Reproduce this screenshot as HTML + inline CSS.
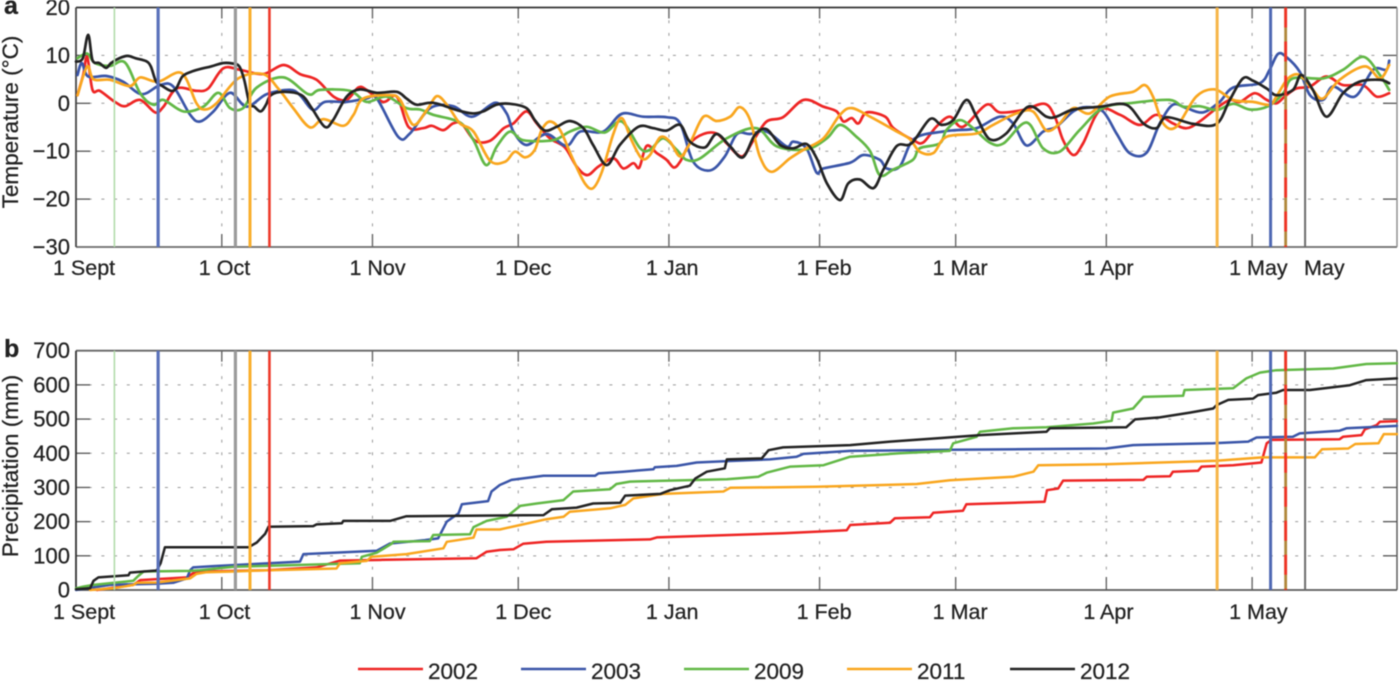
<!DOCTYPE html>
<html lang="en">
<head>
<meta charset="utf-8">
<title>Temperature and precipitation, 1 Sept to May</title>
<style>
html,body{margin:0;padding:0;background:#fff;width:1400px;height:683px;overflow:hidden}
svg{display:block;filter:blur(0.6px)}
text{font-family:"Liberation Sans",sans-serif;fill:#222;stroke:#222;stroke-width:0.25px}
</style>
</head>
<body>
<svg id="chart" width="1400" height="683" viewBox="0 0 1400 683" xmlns="http://www.w3.org/2000/svg"></svg>
<script>
const monthDays = [0, 30, 61, 91, 122, 153, 181, 212, 242];
const monthLabels = ['1 Sept', '1 Oct', '1 Nov', '1 Dec', '1 Jan', '1 Feb', '1 Mar', '1 Apr', '1 May'];
const tempTicks = [20, 10, 0, -10, -20, -30];
const precipTicks = [700, 600, 500, 400, 300, 200, 100, 0];
const years = ['2002', '2003', '2009', '2011', '2012'];
const yearColors = ['#ee2524', '#3a55a8', '#62b846', '#f9a61e', '#232323'];

const temp2002 = [[0.3,1.7],[1.5,6],[2.3,9.7],[3.4,2.8],[4.9,2.6],[8,0.3],[10.1,-0.6],[13.2,0.7],[16.3,-1.9],[18,-0.7],[20.7,3.1],[24.8,2.6],[27.2,3.1],[30.3,7.3],[33.7,7],[38.5,6.1],[42.7,8],[46.1,6.1],[49.5,4.9],[53,1.4],[55.7,0.7],[58.1,3.3],[59.8,2.8],[63.2,0.3],[66,1.4],[68.4,-4.9],[71.4,-5.2],[73.2,-4.7],[75.6,-5.6],[77.6,-4.2],[79.4,-4.3],[82.1,-7.8],[85.2,-7.8],[88,-5.2],[90,-4.2],[92.7,-1.7],[94.8,-4.2],[97.5,-7.3],[100.6,-9.2],[103,-13.2],[105.2,-15],[107.5,-13.2],[110.6,-11.5],[112.6,-13.6],[114.7,-12.5],[115.9,-13.4],[117.4,-8.9],[119.5,-10.4],[121.5,-11.8],[123,-13.4],[124.3,-12.2],[126.3,-8.4],[129.1,-6.4],[131.8,-6.3],[133.9,-8.4],[137,-11.1],[139.4,-7.7],[142.1,-3.8],[145.5,-2.9],[149.7,0.7],[153.8,-0.7],[156.5,-1.7],[157.9,-3.8],[159.6,-3.1],[161,-4.2],[162.7,-1.9],[166.5,-2.8],[168.2,-5.2],[172.3,-7.7],[174.3,-8.2],[177,-4.9],[179.8,-2.8],[182.5,-4.9],[187.3,-0.3],[190.1,-1.9],[194.9,-1.4],[199.3,-0.1],[201.4,-2.8],[203.1,-7.7],[205.2,-10.8],[207.2,-8.4],[210.7,-1.4],[214.8,-2.4],[218.9,-4.5],[222.3,-2.4],[225.7,-4.2],[228.5,-5.2],[231.2,-3.8],[234.7,-1],[237.4,0.7],[239.5,0.3],[242.5,2.1],[245,0.7],[247,0],[248.7,1.4],[251.1,3.1],[253.9,3.5],[257.3,5.6],[260.7,3.8],[264.8,3.8],[267.6,1.4],[270.2,2.1]];
const temp2003 = [[0.3,5.9],[1.2,8.4],[2.5,5.6],[6.3,5.7],[9.7,4.5],[13.5,1.9],[17.3,3.8],[20,3.5],[23.5,-2.4],[25.5,-3.8],[28.3,-1.7],[31.7,2.2],[35.1,-0.7],[39.2,1.9],[44,2.8],[46.1,1.7],[48.8,-1.4],[51.2,0.3],[55.7,0.3],[59.8,1],[61.9,1],[66.3,-7],[68.7,-6.3],[72.9,-1],[77.6,-0.6],[81.5,-2.8],[86.2,0.1],[88.6,-2.1],[90,-5.9],[92.7,-8.7],[96.8,-6.4],[100.9,-8.9],[103.7,-5.9],[108.5,-5.9],[112.3,-2.2],[116.7,-2.8],[121.5,-2.9],[124.3,-4.2],[127,-12.2],[130.5,-14],[133.5,-11.1],[136,-6.4],[138.7,-6.4],[142.1,-5.9],[146.2,-9],[147.6,-8],[150.3,-9.4],[152.4,-14.5],[153.8,-13.6],[159.3,-12.4],[162,-10.8],[165.4,-11.8],[166.8,-13.6],[169.5,-13.2],[172.5,-7.4],[178.4,-5.9],[181.2,-5.6],[185.3,-5.2],[190.1,-2.8],[192.8,-4.2],[195.6,-8.8],[199,-5.9],[201.7,-4.9],[205.2,-1.7],[207.9,-0.8],[211.3,-1.7],[214.1,-6.3],[216.8,-10.4],[220.2,-10.4],[223,-4.2],[225.7,-0.3],[228.5,-1],[231.9,-1.9],[235.3,0.3],[238.1,3.3],[243.6,4.2],[245.6,7],[247.3,10.3],[249,9.7],[251.8,6.6],[253.9,1.7],[256.6,0.7],[258.7,3.5],[263.1,1.4],[266.9,7],[269.6,7],[270.2,8.9]];
const temp2009 = [[0.3,9.4],[2.3,10.4],[3.9,8.4],[7,7.8],[10.1,8.5],[13.2,2.1],[15.9,-0.3],[18,0.7],[22.1,-1.7],[26.2,-0.7],[29.3,2.2],[31.7,-1],[34.4,-1],[37.2,3.3],[42.7,5.4],[47.8,1.9],[50.2,2.8],[56.4,2.6],[59.8,0.3],[63.9,1.4],[68,-1],[70.8,-1.3],[73.5,-2.4],[79,-4],[81.8,-7.7],[84.4,-12.9],[86.6,-9],[89.3,-5.9],[92,-7.7],[98.2,-7.7],[101.6,-5.9],[105.1,-4.9],[108.8,-6.1],[112.3,-3.8],[116.1,-9.4],[118.1,-9.7],[120.8,-7.3],[123.6,-9.7],[125.6,-11.8],[128.4,-11.5],[133.9,-7.3],[140,-5.2],[144.2,-9],[150.3,-9.6],[154.5,-7.3],[157.2,-4.5],[160.6,-7],[163.4,-10],[165.4,-15],[168.2,-13.8],[172.2,-11.8],[173.6,-9.4],[177.7,-8.4],[179.1,-5.6],[181.8,-3.5],[184.6,-5.2],[188,-8.2],[190.8,-8.4],[195.6,-4],[199,-9.4],[202.4,-10.1],[206.5,-5.6],[211.3,-1],[217.5,0.1],[225,0.7],[227.8,-0.7],[231.2,-0.6],[234.7,-1.4],[238.1,-0.1],[241.5,-1.3],[245.3,-0.6],[248.4,2.1],[250.4,5.2],[256.6,5.2],[260.7,7],[264.9,9.7],[268.3,5.9],[270.2,2.8]];
const temp2011 = [[0.3,1.7],[2.3,7.7],[3.6,5],[7,4.9],[11.1,3.6],[13.2,5.4],[16.9,4.5],[21.7,6.3],[24.8,0],[26.5,-1.3],[28.9,0],[33.4,5.2],[38.5,6.1],[41.6,3.1],[44.7,-1],[48.1,-5],[50.9,-3.3],[55,-4.7],[57.1,-2.4],[59.1,1],[64.6,1.7],[66.7,0.7],[69.4,-4.5],[72.2,-1.4],[74.3,1.5],[76.6,-0.7],[79,-4.2],[81.8,-5.9],[85.2,-12],[88.3,-12.2],[90.3,-10.1],[92.4,-11.3],[94.4,-9.7],[95.8,-5.6],[97.5,-3.8],[99.6,-5.6],[102.3,-11.8],[104.7,-16.7],[106.4,-17.7],[108.2,-14.3],[110.6,-6.3],[112.3,-3.1],[114.3,-7.7],[116.4,-11.5],[118.1,-10.8],[120.2,-7.1],[122.2,-8],[124.3,-11.1],[126.3,-8.4],[129.1,-2.8],[131.8,-3.7],[134.6,-2.8],[136.6,-0.8],[138.7,-3.5],[140.7,-11.1],[143.1,-14.3],[146.9,-11.5],[149.7,-9.7],[153.8,-7.3],[157.2,-2.4],[159.6,-1],[163.4,-2.8],[168.9,-5.9],[171.6,-7.5],[173.6,-10.1],[176.4,-10.4],[179.1,-7],[185.3,-6.3],[188.7,-4.5],[193.5,-2.1],[196.9,-1.7],[199.7,-5.7],[202.4,-4.2],[205.2,-1],[208.6,-2.1],[212.7,1.4],[217.5,2.4],[219.9,3.8],[221.6,1.4],[223.7,-4.2],[226.4,-4.9],[230.5,1.4],[234.3,2.9],[238.1,0.7],[242.2,0.3],[245.6,-0.3],[247,1.4],[249.4,5.2],[251.8,5.9],[254.5,2.8],[256.6,1],[260,4.9],[265.2,7.7],[268.3,5.2],[270.2,8]];
const temp2012 = [[0,8.7],[1.4,9.4],[2.5,14.3],[3.4,9],[4.8,8.4],[6.2,7.4],[7.2,8.4],[8.9,9.4],[10.6,9.9],[12.3,9.4],[14.4,8.8],[15.4,7.7],[16.5,4.5],[17.8,3.6],[19.5,2.6],[20.6,3.1],[21.9,5.6],[23.7,6.6],[25.7,7.2],[27.8,7.7],[30.2,8.4],[32.2,8.3],[33.6,7.7],[34.6,4.9],[35.7,0],[36.7,-0.7],[38,-1.7],[39.1,-0.3],[40.1,1.7],[42.7,2.4],[46.4,1.7],[48.5,-1],[51.2,-4.9],[52.9,-3.5],[55.7,1.4],[58.4,2.9],[61.9,2.2],[66,2.4],[68,1],[70.1,-0.3],[73.5,0.1],[78.3,-1.4],[81.5,-2.1],[83.8,-1.7],[86.5,-0.3],[89.3,-0.1],[92.7,-1],[94.4,-3.5],[96.5,-5.7],[98.9,-4.9],[101.6,-3.7],[104.4,-5.2],[106.4,-8.7],[109.2,-12.9],[111.9,-8.7],[115.7,-4.9],[118.8,-5.2],[121.5,-5.7],[124.3,-4.5],[126.3,-8],[129.4,-9.2],[131.8,-6.4],[134.6,-9],[137.2,-11.3],[139.7,-6.6],[142.1,-5.4],[144.9,-8.7],[147.6,-9.4],[150.3,-8.5],[152.4,-11.5],[154.5,-16.7],[157.2,-20.2],[158.9,-16.7],[161.3,-15.9],[164.1,-17.7],[166.1,-13.9],[168.9,-8.9],[171.9,-8.4],[175.7,-3.3],[178.1,-4.5],[180.5,-3.5],[183.2,0.7],[185.3,-2.8],[188,-7.5],[191.4,-6.3],[195.9,-0.7],[199.7,-2.8],[201.7,-2.8],[205.2,-1.3],[210.7,-0.7],[216.1,-0.3],[219.6,-4.2],[222.3,-5.2],[224.4,-2.9],[229.9,-4.3],[234.7,-4.3],[237.4,0.7],[240.1,5.2],[242.2,4.7],[245,3.1],[247,1.7],[250.4,2.8],[252.1,5.9],[254.5,2.8],[257.3,-2.8],[260.7,2.1],[264.1,4.5],[268.3,4.9],[270.2,4.2]];

const precip2002 = [[4.3,0],[11.8,15],[13.2,29],[22.8,37],[24.1,49],[26.9,54],[39.2,58],[49.5,66],[54.3,86],[82.4,93],[84.5,112],[87.2,117],[90,119],[92,135],[96.8,141],[118.1,148],[119.5,154],[145.5,166],[158.6,175],[159.3,190],[167.5,197],[168.5,210],[175.7,213],[176.4,226],[182.5,232],[183.2,251],[199.3,258],[199.8,292],[202.1,297],[203.1,320],[219.6,322],[220.3,331],[225.1,333],[225.7,346],[230.9,349],[231.6,361],[238.1,365],[243.9,373],[245,429],[246,439],[260,441],[260.7,448],[264.5,453],[265.2,470],[267.6,482],[268.3,492],[271.8,494]];
const precip2003 = [[0,0],[7,15],[11.8,17],[16.6,18],[20,21],[22.8,34],[23.5,58],[24.1,66],[28.3,70],[46.1,83],[46.8,105],[53,109],[61.9,115],[64.6,136],[71.8,146],[74.5,151],[76.3,200],[78.7,224],[79.4,251],[84.8,260],[85.5,288],[87.2,307],[89.6,322],[96.2,334],[106.8,334],[107.5,341],[112.6,346],[118.8,353],[119.1,359],[123.6,363],[127.7,373],[133.9,377],[142.8,382],[148.3,390],[149.7,398],[159.3,407],[180.5,410],[212,414],[217.5,424],[234,429],[241.2,434],[242.9,446],[250.4,448],[251.8,458],[260,466],[261.4,473],[271.8,480]];
const precip2009 = [[0,5],[1.5,10],[3.6,15],[11.8,27],[12.8,41],[13.9,54],[23.5,56],[25.5,58],[32.4,68],[58.4,78],[58.8,97],[61.9,109],[65,136],[65.3,141],[72.8,143],[73.5,161],[81.1,163],[81.8,184],[84.5,202],[88.6,214],[91.4,246],[94.8,253],[100.3,263],[102.3,288],[109.9,295],[111.2,310],[114,317],[133.9,324],[140.4,331],[142.1,343],[147,361],[153.8,365],[159.3,390],[169.5,400],[179.8,407],[180.5,429],[185.3,448],[186,463],[192.8,473],[199.7,476],[209.3,487],[213.1,495],[213.4,519],[217.5,531],[219.6,565],[227.8,568],[228.1,585],[238.1,590],[240.8,619],[243.6,636],[247,643],[258.7,648],[265.5,661],[271.8,663]];
const precip2011 = [[2.9,0],[7.7,5],[11.8,15],[12.5,21],[16.6,22],[23.5,34],[24.8,47],[26.9,52],[32.4,54],[37.9,57],[53.6,63],[54.3,78],[59.8,85],[60.8,97],[68,105],[75.6,122],[76.3,141],[81.8,153],[82.4,177],[87.2,177],[91.4,190],[96.8,207],[100.3,214],[101.6,229],[109.9,239],[113,249],[114.7,268],[120.8,281],[133.2,288],[134.6,299],[152.4,302],[173,310],[179.8,321],[192.8,331],[197,346],[198,365],[212,368],[234.7,378],[244.1,388],[254.9,388],[256.4,412],[261.8,414],[263.2,427],[268,429],[269.1,456],[271.8,456]];
const precip2012 = [[0,2],[2.9,5],[3.6,27],[4.6,37],[10.8,43],[11.1,51],[13.9,54],[16.6,57],[17.4,78],[18.3,125],[35.5,125],[37.2,139],[38.9,164],[39.6,185],[48.8,187],[49.5,192],[54.7,195],[55,202],[64.6,202],[68,216],[96.2,219],[97.9,236],[103,241],[106.4,253],[112,255],[113,276],[120.2,281],[122.2,292],[126.3,305],[127.4,326],[129.8,346],[133.5,356],[133.9,382],[141.1,385],[142.5,409],[145.5,417],[159.3,424],[167.5,434],[178.4,445],[186,453],[199.7,463],[200.4,473],[216.1,476],[217.9,499],[223,505],[229.2,519],[234,531],[234.7,541],[237.1,556],[242.2,560],[243.2,570],[247,577],[248.4,585],[253.9,585],[262.1,599],[265.5,614],[271.8,619]];

const eventDays = [7.9, 16.9, 32.8, 35.8, 39.8, 234.8, 245.8, 248.9, 252.9];
const eventLabels = ['2009-light', '2003', '2012', '2011', '2002', '2011-end', '2003-end', '2002-end', '2012-end'];

const svg = document.getElementById('chart');
const NS = 'http://www.w3.org/2000/svg';
const plotLeft = 76, plotRight = 1397, pxPerDay = 4.86;
const aTop = 7.5, aBottom = 247, bTop = 350.7, bBottom = 590;
function xScale(d) { return plotLeft + d * pxPerDay; }
function yTemp(v) { return aTop + (20 - v) / 50 * (aBottom - aTop); }
function yPrecip(v) { return bBottom - v / 700 * (bBottom - bTop); }

function add(tag, attrs, parent) {
  const el = document.createElementNS(NS, tag);
  for (const k in attrs) el.setAttribute(k, attrs[k]);
  (parent || svg).appendChild(el);
  return el;
}
function addText(str, x, y, size, anchor, weight, parent) {
  const t = add('text', { x: x, y: y, 'font-size': size, 'text-anchor': anchor || 'start', 'font-weight': weight || 'normal' }, parent);
  t.textContent = str;
  return t;
}
function smoothPath(pts) {
  let d = 'M' + pts[0][0].toFixed(1) + ' ' + pts[0][1].toFixed(1);
  for (let i = 0; i < pts.length - 1; i++) {
    const p0 = pts[Math.max(i - 1, 0)], p1 = pts[i], p2 = pts[i + 1], p3 = pts[Math.min(i + 2, pts.length - 1)];
    const c1x = p1[0] + (p2[0] - p0[0]) / 6, c1y = p1[1] + (p2[1] - p0[1]) / 6;
    const c2x = p2[0] - (p3[0] - p1[0]) / 6, c2y = p2[1] - (p3[1] - p1[1]) / 6;
    d += 'C' + c1x.toFixed(1) + ' ' + c1y.toFixed(1) + ' ' + c2x.toFixed(1) + ' ' + c2y.toFixed(1) + ' ' + p2[0].toFixed(1) + ' ' + p2[1].toFixed(1);
  }
  return d;
}
function straightPath(pts) {
  return 'M' + pts.map(function (p) { return p[0].toFixed(1) + ' ' + p[1].toFixed(1); }).join('L');
}

function drawFrame(panel, top, bottom, yFn, ticks, labelY, topColor, leftColor, bottomColor, rightColor) {
  const g = add('g', {});
  
  
  ticks.forEach(function (v) {
    const y = yFn(v);
    if (y > top + 1 && y < bottom - 1) {
      const grid = add('line', { x1: plotLeft, x2: plotRight, y1: y, y2: y, stroke: '#999', 'stroke-width': 1, 'stroke-dasharray': '3 9.7' }, g);
      
      
      add('line', { x1: plotLeft, x2: plotLeft + 14, y1: y, y2: y, stroke: '#555', 'stroke-width': 1.3 }, g);
      add('line', { x1: plotRight - 14, x2: plotRight, y1: y, y2: y, stroke: '#555', 'stroke-width': 1.3 }, g);
    }
    const lab = addText(String(v).replace('-', '\u2212'), 70, y + 7.5, 22, 'end', 'normal', g);
    
    
  });
  monthDays.forEach(function (d, i) {
    const x = xScale(d);
    if (i > 0) {
      const grid = add('line', { x1: x, x2: x, y1: top, y2: bottom, stroke: '#999', 'stroke-width': 1, 'stroke-dasharray': '3 9.7' }, g);
      
      
      add('line', { x1: x, x2: x, y1: top, y2: top + 11, stroke: '#666', 'stroke-width': 1.4 }, g);
      add('line', { x1: x, x2: x, y1: bottom - 13, y2: bottom, stroke: '#666', 'stroke-width': 1.4 }, g);
    }
    const lab = addText(monthLabels[i], x - 23, labelY, 21.5, 'start', 'normal', g);
    
    
  });
  add('line', { x1: plotLeft, x2: plotRight, y1: top, y2: top, stroke: topColor, 'stroke-width': 1.8 }, g);
  add('line', { x1: plotLeft, x2: plotRight, y1: bottom, y2: bottom, stroke: bottomColor, 'stroke-width': 1.8 }, g);
  add('line', { x1: plotLeft, x2: plotLeft, y1: top, y2: bottom, stroke: leftColor, 'stroke-width': 1.8 }, g);
  add('line', { x1: plotRight, x2: plotRight, y1: top, y2: bottom, stroke: rightColor, 'stroke-width': 1.4 }, g);
}

function drawEvents(panel, top, bottom) {
  const g = add('g', {});
  
  
  const styles = [['#b3dcab', 1.6], ['#5a72bb', 3.2], ['#9b9b9b', 3.2], ['#f9ae2c', 3], ['#ee3a2a', 2.6], ['#f6b548', 3], ['#4f68b3', 3], ['#b0883a', 2.8], ['#6c6c6c', 2]];
  eventDays.forEach(function (d, i) {
    const l = add('line', { x1: xScale(d), x2: xScale(d), y1: top, y2: bottom, stroke: styles[i][0], 'stroke-width': styles[i][1] }, g);
    
    
    if (eventLabels[i] === '2002-end') {
      const dash = add('line', { x1: xScale(d), x2: xScale(d), y1: top, y2: bottom, stroke: '#ef3325', 'stroke-width': 2.8, 'stroke-dasharray': '20 14' }, g);
      
      
    }
  });
}

function drawSeries(panel, list, yFn, pathFn, width) {
  list.forEach(function (series, i) {
    const pts = series.map(function (p) { return [xScale(p[0]), yFn(p[1])]; });
    const path = add('path', { d: pathFn(pts), fill: 'none', stroke: yearColors[i], 'stroke-width': width, 'stroke-linejoin': 'round', 'stroke-linecap': 'round' });
    
    
  });
}

drawFrame('temperature', aTop, aBottom, yTemp, tempTicks, 275, '#333', '#444', '#6a6a6a', '#8c8c8c');
drawSeries('temperature', [temp2002, temp2003, temp2009, temp2011, temp2012], yTemp, smoothPath, 2.7);
drawEvents('temperature', aTop, aBottom);

drawFrame('precipitation', bTop, bBottom, yPrecip, precipTicks, 619, '#666', '#333', '#5a5a5a', '#555');
drawSeries('precipitation', [precip2002, precip2003, precip2009, precip2011, precip2012], yPrecip, straightPath, 2.5);
drawEvents('precipitation', bTop, bBottom);

const extraMay = addText('May', 1304, 275, 21.5, 'start');



const panelA = addText('a', 4, 14, 25, 'start', 'bold');


const panelB = addText('b', 4, 357, 25, 'start', 'bold');



const titleA = addText('Temperature (°C)', 0, 0, 22.5, 'middle');
titleA.setAttribute('transform', 'translate(18,122) rotate(-90)');


const titleB = addText('Precipitation (mm)', 0, 0, 22.5, 'middle');
titleB.setAttribute('transform', 'translate(18,466) rotate(-90)');



const legend = add('g', {});


years.forEach(function (year, i) {
  const lineX = 358 + i * 163;
  const entry = add('g', {}, legend);
  
  
  add('line', { x1: lineX, x2: lineX + 65, y1: 669, y2: 669, stroke: yearColors[i], 'stroke-width': 2.4 }, entry);
  addText(year, lineX + 70, 679, 22.5, 'start', 'normal', entry);
});
</script>
</body>
</html>
